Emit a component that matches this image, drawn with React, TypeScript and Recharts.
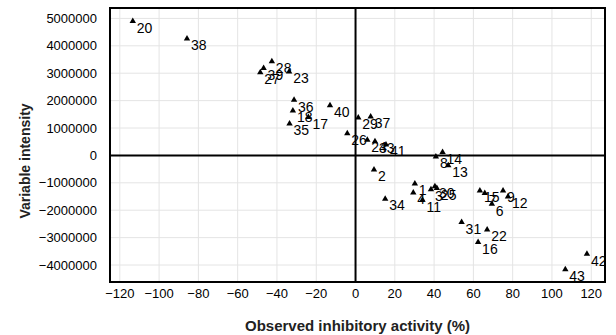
import {
  CartesianGrid,
  ReferenceArea,
  ReferenceLine,
  Scatter,
  ScatterChart,
  XAxis,
  YAxis,
  ZAxis,
} from "recharts";

const FONT = "'Liberation Sans', Arial, sans-serif";

// compound number, observed inhibition (%), variable intensity
const compoundIds = [
  20, 38, 28, 39, 27, 23, 36, 18, 17, 40, 35, 29, 37, 26, 24, 33, 41, 2, 34,
  14, 8, 13, 30, 25, 3, 1, 4, 11, 15, 7, 6, 9, 12, 31, 22, 16, 42, 43,
];
const inhibition = [
  -113.4, -85.8, -42.6, -46.8, -48.5, -33.8, -31.3, -31.9, -24.0, -13.0, -33.6,
  1.4, 7.7, -4.2, 6.0, 9.9, 15.5, 9.4, 15.1, 44.3, 40.9, 47.2, 40.4, 41.4, 38.4,
  30.2, 29.4, 34.1, 63.3, 65.8, 69.4, 75.1, 77.6, 54.0, 67.0, 62.4, 117.8, 106.8,
];
const intensity = [
  4910000, 4270000, 3440000, 3200000, 3040000, 3070000, 2040000, 1650000,
  1410000, 1840000, 1170000, 1390000, 1430000, 820000, 580000, 520000, 410000,
  -510000, -1570000, 130000, -30000, -350000, -1120000, -1180000, -1230000,
  -1020000, -1350000, -1610000, -1270000, -1360000, -1760000, -1270000,
  -1490000, -2420000, -2700000, -3150000, -3580000, -4150000,
];

const xTicks = [-120, -100, -80, -60, -40, -20, 0, 20, 40, 60, 80, 100, 120];
const yTicks = [
  -4000000, -3000000, -2000000, -1000000, 0, 1000000, 2000000, 3000000,
  4000000, 5000000,
];
const xGrid = xTicks;
const yGrid = [
  -4500000, -4000000, -3500000, -3000000, -2500000, -2000000, -1500000,
  -1000000, -500000, 0, 500000, 1000000, 1500000, 2000000, 2500000, 3000000,
  3500000, 4000000, 4500000, 5000000,
];

const X_DOMAIN = [-125, 127];
const Y_DOMAIN = [-4620000, 5380000];

const points = compoundIds.map((id, i) => ({
  id,
  x: inhibition[i],
  y: intensity[i],
}));

const fmt = (v: number) => String(v).replace("-", "\u2212");

function Marker(props: any) {
  const { cx, cy, payload } = props;
  if (cx == null || cy == null) return null;
  return (
    <g>
      <path
        d={`M${cx},${cy - 3.3}L${cx + 3.2},${cy + 2.2}L${cx - 3.2},${cy + 2.2}Z`}
        fill="#000"
      />
      <text x={cx + 4} y={cy + 12} fontSize={14} fontFamily={FONT} fill="#000">
        {payload.id}
      </text>
    </g>
  );
}

function YTitle(props: any) {
  const vb = props.viewBox;
  const x = vb.x + 25;
  const y = vb.y + vb.height / 2 + 16;
  return (
    <text
      x={x}
      y={y}
      transform={`rotate(-90 ${x} ${y})`}
      textAnchor="middle"
      dominantBaseline="central"
      fontSize={14}
      fontWeight="bold"
      fontFamily={FONT}
      fill="#222"
    >
      Variable intensity
    </text>
  );
}

export default function App() {
  return (
    <div style={{ position: "absolute", left: 0, top: 0, background: "#fff" }}>
      <ScatterChart
        width={616}
        height={335}
        margin={{ top: 8, right: 11, bottom: 0, left: 0 }}
        style={{ fontFamily: FONT }}
      >
        <CartesianGrid
          stroke="#e4e4e4"
          horizontalValues={yGrid}
          verticalValues={xGrid}
        />
        <XAxis
          type="number"
          dataKey="x"
          domain={X_DOMAIN}
          ticks={xTicks}
          allowDataOverflow
          height={53}
          tickLine={false}
          axisLine={false}
          tickSize={0}
          tickMargin={7}
          tickFormatter={fmt}
          tick={{ fontSize: 13, fill: "#000", fontFamily: FONT }}
          label={{
            value: "Observed inhibitory activity (%)",
            position: "insideBottom",
            offset: 4,
            fontSize: 15,
            fontWeight: "bold",
            fill: "#222",
            fontFamily: FONT,
          }}
        />
        <YAxis
          type="number"
          dataKey="y"
          domain={Y_DOMAIN}
          ticks={yTicks}
          allowDataOverflow
          width={110}
          tickLine={false}
          axisLine={false}
          tickSize={0}
          tickMargin={13}
          tickFormatter={fmt}
          tick={{ fontSize: 13, fill: "#000", fontFamily: FONT }}
          label={{ content: YTitle }}
        />
        <ZAxis range={[20, 20]} />
        <ReferenceLine x={0} stroke="#000" strokeWidth={2} />
        <ReferenceLine y={0} stroke="#000" strokeWidth={2} />
        <ReferenceArea
          x1={X_DOMAIN[0]}
          x2={X_DOMAIN[1]}
          y1={Y_DOMAIN[0]}
          y2={Y_DOMAIN[1]}
          fill="none"
          fillOpacity={0}
          stroke="#000"
          strokeWidth={2}
        />
        <Scatter data={points} shape={Marker} isAnimationActive={false} />
      </ScatterChart>
    </div>
  );
}
